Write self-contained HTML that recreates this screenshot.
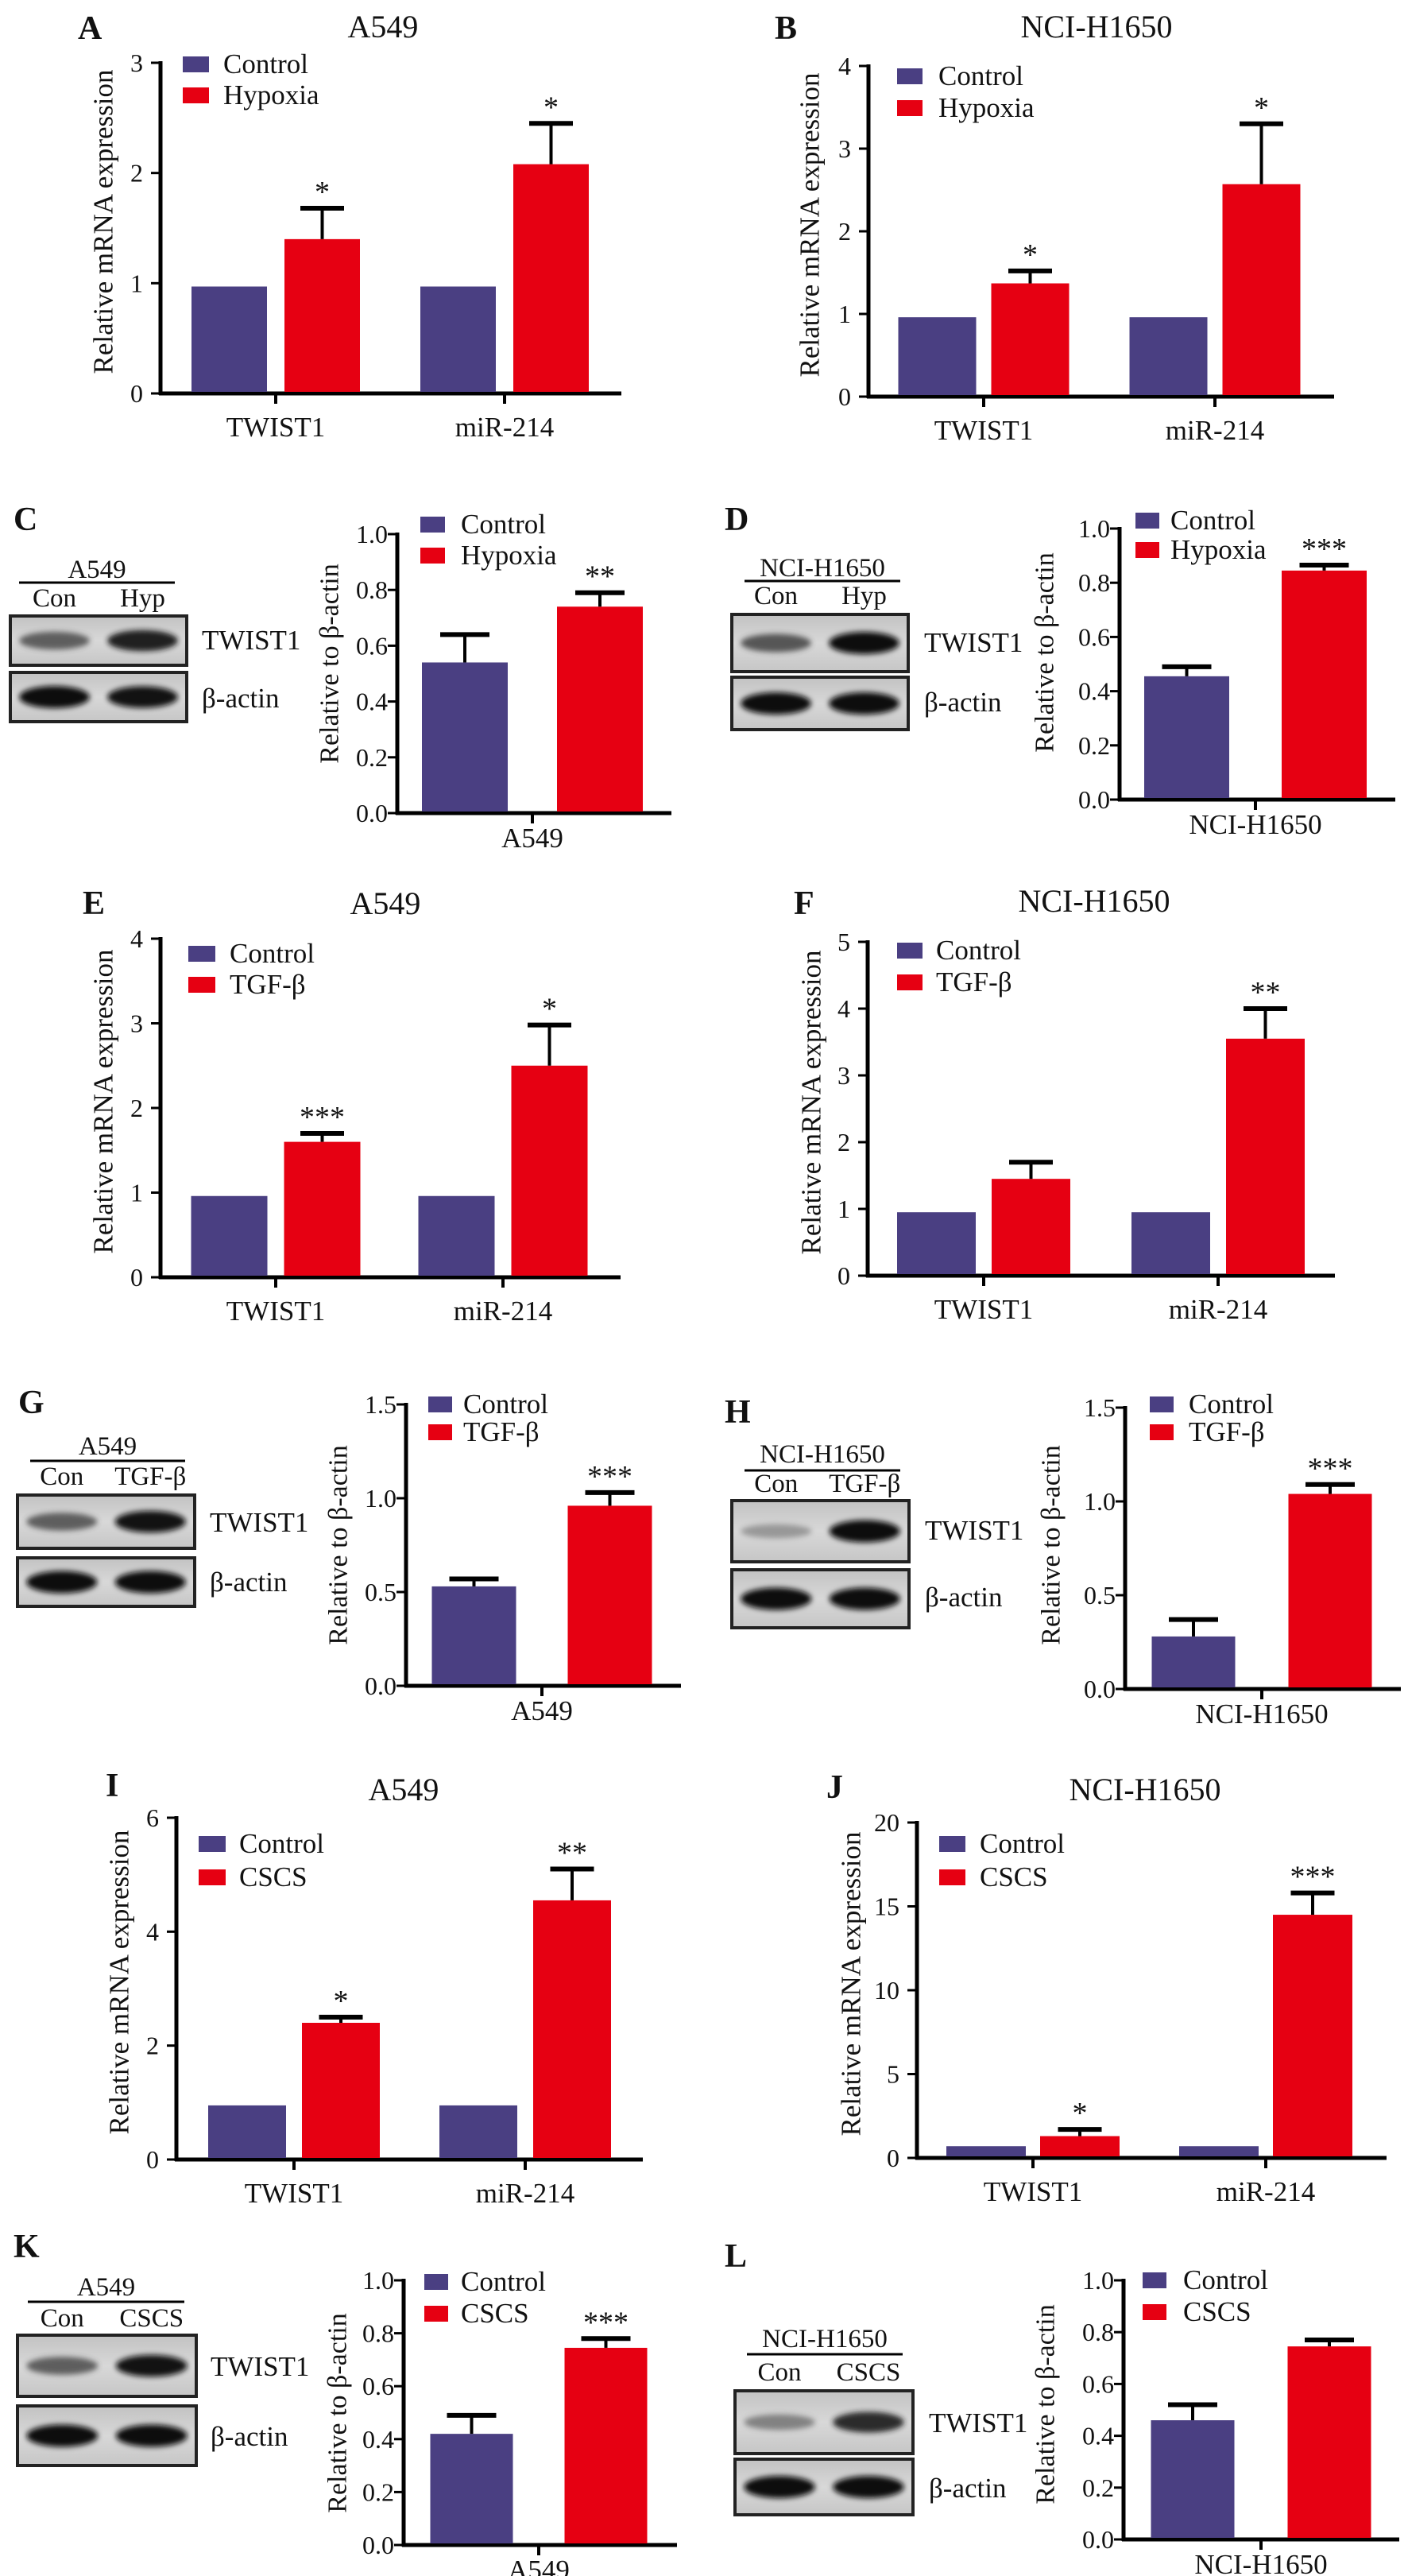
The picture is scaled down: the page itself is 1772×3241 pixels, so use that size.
<!DOCTYPE html>
<html><head><meta charset="utf-8"><title>Figure</title>
<style>
html,body{margin:0;padding:0;background:#fff;}
svg{display:block;font-family:"Liberation Serif","DejaVu Serif",serif;}
</style></head>
<body>
<svg id="fig" xmlns="http://www.w3.org/2000/svg" width="1772" height="3241" viewBox="0 0 1772 3241">
<defs>
<filter id="blur" x="-30%" y="-100%" width="160%" height="300%"><feGaussianBlur stdDeviation="3.5"/></filter>
<linearGradient id="blotbg" x1="0" y1="0" x2="0" y2="1"><stop offset="0" stop-color="#c2c2c2"/><stop offset="0.5" stop-color="#d8d8d8"/><stop offset="1" stop-color="#c6c6c6"/></linearGradient>
</defs>
</svg>
<script>
// ===== data arrays =====
const categories = ['TWIST1','miR-214'];
// A: A549 hypoxia
const aControl = [0.97, 0.97];
const aTreat = [1.40, 2.08];
const aTreatErr = [1.68, 2.45];
const aStars = ['*','*'];
const aTicks = [0,1,2,3];
// B: NCI-H1650 hypoxia
const bControl = [0.96, 0.96];
const bTreat = [1.37, 2.57];
const bTreatErr = [1.52, 3.30];
const bStars = ['*','*'];
const bTicks = [0,1,2,3,4];
// E: A549 TGF-b
const eControl = [0.96, 0.96];
const eTreat = [1.60, 2.50];
const eTreatErr = [1.70, 2.98];
const eStars = ['***','*'];
const eTicks = [0,1,2,3,4];
// F: NCI-H1650 TGF-b
const fControl = [0.95, 0.95];
const fTreat = [1.45, 3.55];
const fTreatErr = [1.70, 4.00];
const fStars = ['','**'];
const fTicks = [0,1,2,3,4,5];
// I: A549 CSCS
const iControl = [0.95, 0.95];
const iTreat = [2.40, 4.55];
const iTreatErr = [2.50, 5.10];
const iStars = ['*','**'];
const iTicks = [0,2,4,6];
// J: NCI-H1650 CSCS
const jControl = [0.70, 0.70];
const jTreat = [1.30, 14.5];
const jTreatErr = [1.70, 15.8];
const jStars = ['*','***'];
const jTicks = [0,5,10,15,20];
// Small (western quantification) charts: [control, treatment]
const cValues = [0.54, 0.74]; const cErr = [0.64, 0.79]; const cStars = ['','**'];
const dValues = [0.455, 0.845]; const dErr = [0.49, 0.865]; const dStars = ['','***'];
const gValues = [0.53, 0.96]; const gErr = [0.57, 1.03]; const gStars = ['','***'];
const hValues = [0.28, 1.04]; const hErr = [0.37, 1.09]; const hStars = ['','***'];
const kValues = [0.42, 0.745]; const kErr = [0.49, 0.78]; const kStars = ['','***'];
const lValues = [0.46, 0.745]; const lErr = [0.52, 0.77]; const lStars = ['',''];
const ticks10 = [0,0.2,0.4,0.6,0.8,1.0];
const ticks15 = [0,0.5,1.0,1.5];
// Band intensities [con, treat]
const cTwistBand=[0.6,0.9], cActinBand=[1,0.95];
const dTwistBand=[0.65,1], dActinBand=[1,1];
const gTwistBand=[0.6,0.95], gActinBand=[1,1];
const hTwistBand=[0.25,1], hActinBand=[1,1];
const kTwistBand=[0.6,0.95], kActinBand=[1,1];
const lTwistBand=[0.4,0.85], lActinBand=[1,1];

const BLUE='#4a3f82', RED='#e60012';
const NS='http://www.w3.org/2000/svg';
const svg=document.getElementById('fig');

function mk(tag, attrs, name, parent){
  const el=document.createElementNS(NS,tag);
  for(const k in attrs) el.setAttribute(k,attrs[k]);
  
  
  (parent||svg).appendChild(el);
  return el;
}
function txt(x,y,s,size,anchor,name,extra){
  const a={x:x,y:y,'font-size':size,'text-anchor':anchor||'start',fill:'#111'};
  if(extra) for(const k in extra) a[k]=extra[k];
  const el=mk('text',a,name);
  el.textContent=s;
  return el;
}
function vtxt(cx,cy,s,size,name){
  const el=mk('text',{x:0,y:0,'font-size':size,'text-anchor':'middle','dominant-baseline':'central',fill:'#111',transform:`translate(${cx},${cy}) rotate(-90)`},name);
  el.textContent=s;
  return el;
}
function line(x1,y1,x2,y2,w,name){
  return mk('line',{x1:x1,y1:y1,x2:x2,y2:y2,stroke:'#000','stroke-width':w},name);
}

function axes(c, ticks, fmt, tickFont){
  const yS=v=>c.zero-(v/c.yMax)*(c.zero-c.top);
  line(c.axisX,c.top-2,c.axisX,c.zero+2,5,'y-axis-line');
  line(c.axisX-2,c.zero,c.xEnd,c.zero,5,'x-axis-line');
  ticks.forEach(t=>{
    line(c.axisX-12,yS(t),c.axisX,yS(t),3,'y-tick');
    txt(c.axisX-(c.small?12:22),yS(t)+11,fmt(t),tickFont,'end','y-tick-label');
  });
  return yS;
}

function errbar(cx,y0,y1,cap,name){
  line(cx,y0,cx,y1,4,name+'-stem');
  line(cx-cap/2,y1,cx+cap/2,y1,6,name+'-cap');
}

function legend(c){
  mk('rect',{x:c.lx,y:c.ly1-10,width:c.lw,height:20,fill:BLUE},'legend-swatch-control');
  txt(c.ltx,c.ly1+11,'Control',c.lf,'start','legend-label-control');
  mk('rect',{x:c.lx,y:c.ly2-10,width:c.lw,height:20,fill:RED},'legend-swatch-treatment');
  txt(c.ltx,c.ly2+11,c.treat,c.lf,'start','legend-label-treatment');
}

function bigChart(c, ctrl, treat, err, stars, ticks){
  txt(c.letterX,c.letterY,c.letter,42,'start','panel-letter',{'font-weight':'bold'});
  txt(c.titleX,c.titleY,c.title,40,'middle','chart-title');
  const yS=axes(c,ticks,t=>String(t),32);
  vtxt(c.ytX,(c.top+c.zero)/2-8,'Relative mRNA expression',35,'y-axis-title');
  legend(c);
  categories.forEach((cat,i)=>{
    const cx=c.centers[i];
    line(cx,c.zero,cx,c.zero+13,4,'x-tick');
    txt(cx,c.zero+54,cat,35,'middle','x-category-label');
    const x0=cx-c.gap/2-c.bw, x1=cx+c.gap/2;
    mk('rect',{x:x0,y:yS(ctrl[i]),width:c.bw,height:c.zero-yS(ctrl[i])-2,fill:BLUE},'bar-control-'+cat);
    mk('rect',{x:x1,y:yS(treat[i]),width:c.bw,height:c.zero-yS(treat[i])-2,fill:RED},'bar-treatment-'+cat);
    errbar(x1+c.bw/2,yS(treat[i]),yS(err[i]),55,'error-bar');
    if(stars[i]) txt(x1+c.bw/2,yS(err[i])-8,stars[i],38,'middle','significance-stars');
  });
}

function smallChart(c, vals, err, stars, ticks, fmt){
  const yS=axes(c,ticks,fmt,32);
  vtxt(c.ytX,c.ytY,'Relative to \u03b2-actin',34,'y-axis-title');
  legend(c);
  line(c.center,c.zero,c.center,c.zero+13,4,'x-tick');
  txt(c.center,c.zero+43,c.xlabel,35,'middle','x-axis-label');
  const xs=[c.center-c.gap/2-c.bw, c.center+c.gap/2];
  const cols=[BLUE,RED];
  vals.forEach((v,i)=>{
    mk('rect',{x:xs[i],y:yS(v),width:c.bw,height:c.zero-yS(v)-2,fill:cols[i]},i?'bar-treatment':'bar-control');
    errbar(xs[i]+c.bw/2,yS(v),yS(err[i]),62,'error-bar');
    if(stars[i]) txt(xs[i]+c.bw/2,yS(err[i])-8,stars[i],38,'middle','significance-stars');
  });
}

function blot(b, twistBand, actinBand){
  if(b.letter) txt(b.letterX,b.letterY,b.letter,42,'start','panel-letter',{'font-weight':'bold'});
  txt((b.lineX[0]+b.lineX[1])/2,b.headerY,b.header,33,'middle','blot-cell-line-label');
  line(b.lineX[0],b.lineY,b.lineX[1],b.lineY,3,'blot-header-line');
  const w=b.x1-b.x0;
  const lanes=[b.x0+w*0.25,b.x0+w*0.75];
  txt(lanes[0],b.laneY,b.lanes[0],33,'middle','lane-label-control');
  txt(lanes[1],b.laneY,b.lanes[1],33,'middle','lane-label-treatment');
  [[b.box1,twistBand,'twist1-blot'],[b.box2,actinBand,'beta-actin-blot']].forEach(([bx,band,nm])=>{
    mk('rect',{x:b.x0,y:bx[0],width:w,height:bx[1]-bx[0],fill:'url(#blotbg)',stroke:'#222','stroke-width':4},nm+'-frame');
    const cy=(bx[0]+bx[1])/2;
    band.forEach((k,i)=>{
      const g=Math.round(10+(1-k)*130);
      mk('ellipse',{cx:lanes[i],cy:cy,rx:w*0.2,ry:7+7*k,fill:`rgb(${g},${g},${g})`,opacity:0.45+0.55*k,filter:'url(#blur)'},nm+'-band');
    });
  });
  txt(b.labelX,b.twistY,'TWIST1',35,'start','blot-label-twist1');
  txt(b.labelX,b.actinY,'\u03b2-actin',35,'start','blot-label-beta-actin');
}

// ===== panels =====
bigChart({letter:'A',letterX:98,letterY:49,title:'A549',titleX:482,titleY:47,axisX:202,top:79,zero:495,xEnd:782,yMax:3,
  centers:[347,635],bw:95,gap:22,ytX:130,lx:230,lw:33,ly1:81,ly2:120,ltx:281,lf:35,treat:'Hypoxia'},aControl,aTreat,aTreatErr,aStars,aTicks);
bigChart({letter:'B',letterX:975,letterY:49,title:'NCI-H1650',titleX:1380,titleY:47,axisX:1093,top:83,zero:499,xEnd:1679,yMax:4,
  centers:[1238,1529],bw:98,gap:19,ytX:1019,lx:1129,lw:32,ly1:96,ly2:136,ltx:1181,lf:35,treat:'Hypoxia'},bControl,bTreat,bTreatErr,bStars,bTicks);
bigChart({letter:'E',letterX:104,letterY:1150,title:'A549',titleX:485,titleY:1150,axisX:202,top:1181,zero:1607,xEnd:781,yMax:4,
  centers:[347,633],bw:96,gap:21,ytX:130,lx:237,lw:34,ly1:1200,ly2:1239,ltx:289,lf:35,treat:'TGF-\u03b2'},eControl,eTreat,eTreatErr,eStars,eTicks);
bigChart({letter:'F',letterX:999,letterY:1150,title:'NCI-H1650',titleX:1377,titleY:1147,axisX:1092,top:1185,zero:1605,xEnd:1680,yMax:5,
  centers:[1238,1533],bw:99,gap:20,ytX:1021,lx:1129,lw:32,ly1:1196,ly2:1236,ltx:1178,lf:35,treat:'TGF-\u03b2'},fControl,fTreat,fTreatErr,fStars,fTicks);
bigChart({letter:'I',letterX:133,letterY:2260,title:'A549',titleX:508,titleY:2265,axisX:222,top:2287,zero:2717,xEnd:809,yMax:6,
  centers:[370,661],bw:98,gap:20,ytX:150,lx:250,lw:34,ly1:2320,ly2:2362,ltx:301,lf:35,treat:'CSCS'},iControl,iTreat,iTreatErr,iStars,iTicks);
bigChart({letter:'J',letterX:1040,letterY:2262,title:'NCI-H1650',titleX:1441,titleY:2265,axisX:1154,top:2293,zero:2715,xEnd:1745,yMax:20,
  centers:[1300,1593],bw:100,gap:18,ytX:1071,lx:1182,lw:33,ly1:2320,ly2:2362,ltx:1233,lf:35,treat:'CSCS'},jControl,jTreat,jTreatErr,jStars,jTicks);

const f1=t=>t.toFixed(1);
smallChart({small:true,axisX:500,top:672,zero:1023,xEnd:845,yMax:1.0,center:670,bw:108,gap:62,ytX:415,ytY:835,
  lx:529,lw:31,ly1:660,ly2:699,ltx:580,lf:35,treat:'Hypoxia',xlabel:'A549'},cValues,cErr,cStars,ticks10,f1);
smallChart({small:true,axisX:1409,top:665,zero:1006,xEnd:1756,yMax:1.0,center:1580,bw:107,gap:66,ytX:1315,ytY:821,
  lx:1429,lw:30,ly1:655,ly2:692,ltx:1473,lf:35,treat:'Hypoxia',xlabel:'NCI-H1650'},dValues,dErr,dStars,ticks10,f1);
smallChart({small:true,axisX:511,top:1767,zero:2121,xEnd:857,yMax:1.5,center:682,bw:106,gap:65,ytX:426,ytY:1944,
  lx:539,lw:30,ly1:1767,ly2:1802,ltx:583,lf:35,treat:'TGF-\u03b2',xlabel:'A549'},gValues,gErr,gStars,ticks15,f1);
smallChart({small:true,axisX:1416,top:1771,zero:2125,xEnd:1763,yMax:1.5,center:1588,bw:105,gap:67,ytX:1323,ytY:1944,
  lx:1447,lw:30,ly1:1767,ly2:1802,ltx:1496,lf:35,treat:'TGF-\u03b2',xlabel:'NCI-H1650'},hValues,hErr,hStars,ticks15,f1);
smallChart({small:true,axisX:508,top:2869,zero:3202,xEnd:852,yMax:1.0,center:678,bw:104,gap:65,ytX:425,ytY:3036,
  lx:534,lw:30,ly1:2871,ly2:2911,ltx:580,lf:35,treat:'CSCS',xlabel:'A549'},kValues,kErr,kStars,ticks10,f1);
smallChart({small:true,axisX:1414,top:2869,zero:3195,xEnd:1761,yMax:1.0,center:1587,bw:105,gap:67,ytX:1316,ytY:3025,
  lx:1438,lw:30,ly1:2869,ly2:2909,ltx:1489,lf:35,treat:'CSCS',xlabel:'NCI-H1650'},lValues,lErr,lStars,ticks10,f1);

blot({letter:'C',letterX:17,letterY:667,x0:13,x1:235,box1:[775,837],box2:[846,908],header:'A549',headerY:727,lineY:733,lineX:[24,220],
  lanes:['Con','Hyp'],laneY:763,labelX:254,twistY:817,actinY:890},cTwistBand,cActinBand);
blot({letter:'D',letterX:912,letterY:667,x0:921,x1:1143,box1:[773,845],box2:[852,918],header:'NCI-H1650',headerY:725,lineY:731,lineX:[937,1133],
  lanes:['Con','Hyp'],laneY:760,labelX:1163,twistY:820,actinY:895},dTwistBand,dActinBand);
blot({letter:'G',letterX:23,letterY:1778,x0:22,x1:245,box1:[1881,1948],box2:[1960,2021],header:'A549',headerY:1830,lineY:1838,lineX:[38,233],
  lanes:['Con','TGF-\u03b2'],laneY:1868,labelX:264,twistY:1927,actinY:2002},gTwistBand,gActinBand);
blot({letter:'H',letterX:912,letterY:1790,x0:921,x1:1144,box1:[1888,1965],box2:[1975,2048],header:'NCI-H1650',headerY:1840,lineY:1850,lineX:[937,1133],
  lanes:['Con','TGF-\u03b2'],laneY:1877,labelX:1164,twistY:1937,actinY:2021},hTwistBand,hActinBand);
blot({letter:'K',letterX:17,letterY:2840,x0:22,x1:247,box1:[2938,3015],box2:[3027,3102],header:'A549',headerY:2888,lineY:2896,lineX:[35,232],
  lanes:['Con','CSCS'],laneY:2927,labelX:265,twistY:2989,actinY:3077},kTwistBand,kActinBand);
blot({letter:'L',letterX:912,letterY:2852,x0:925,x1:1149,box1:[3008,3087],box2:[3094,3164],header:'NCI-H1650',headerY:2953,lineY:2962,lineX:[940,1136],
  lanes:['Con','CSCS'],laneY:2995,labelX:1169,twistY:3060,actinY:3142},lTwistBand,lActinBand);
</script>
</body></html>
